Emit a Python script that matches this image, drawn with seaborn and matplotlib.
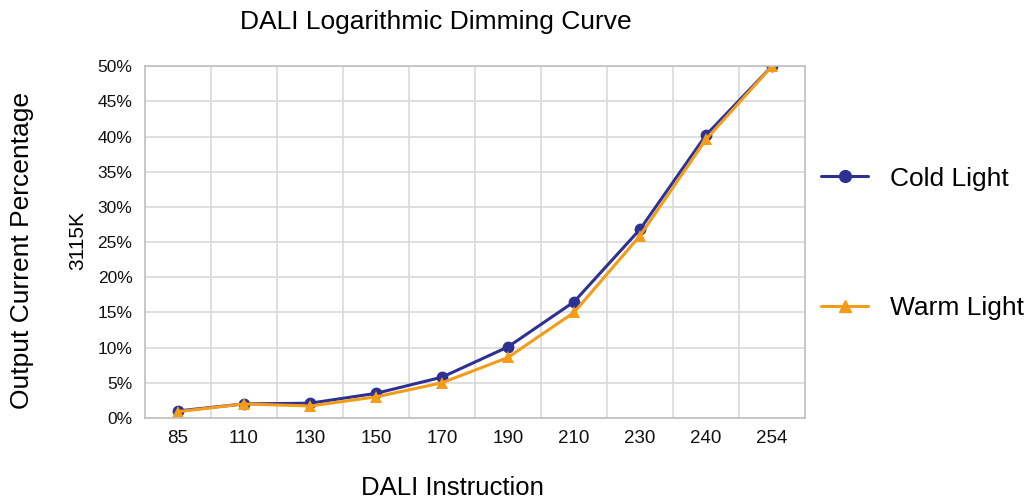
import pandas as pd
import matplotlib
matplotlib.use("Agg")
import matplotlib.pyplot as plt
import seaborn as sns
from matplotlib.ticker import FuncFormatter

dali = ['85', '110', '130', '150', '170', '190', '210', '230', '240', '254']
cold = [1.0, 2.0, 2.1, 3.5, 5.8, 10.1, 16.5, 26.8, 40.2, 50.0]
warm = [0.9, 2.0, 1.7, 3.0, 5.0, 8.6, 15.0, 25.9, 39.6, 50.0]

df = pd.DataFrame({
    'DALI': dali * 2,
    'Pct': cold + warm,
    'Series': ['Cold Light'] * len(dali) + ['Warm Light'] * len(dali),
})

sns.set_style("whitegrid")
plt.rcParams['font.family'] = ['Liberation Sans', 'DejaVu Sans']
plt.rcParams['text.color'] = 'black'

fig = plt.figure(figsize=(10.32, 5.01), dpi=100)
ax = fig.add_axes([0.1405, 0.1657, 0.6395, 0.7023])

sns.lineplot(data=df, x='DALI', y='Pct', hue='Series', style='Series',
             markers={'Cold Light': 'o', 'Warm Light': '^'}, dashes=False,
             palette={'Cold Light': '#2e3192', 'Warm Light': '#f39c1a'},
             linewidth=2.2, markersize=8.5, markeredgewidth=0, ax=ax, legend=False)

ax.set_xlim(-0.5, 9.5)
ax.set_ylim(0, 50)
ax.set_yticks(range(0, 51, 5))
ax.yaxis.set_major_formatter(FuncFormatter(lambda v, p: f"{int(v)}%"))
ax.set_xticks(range(len(dali)))
ax.set_xticklabels(dali)
ax.set_xticks([i + 0.5 for i in range(len(dali) - 1)], minor=True)
ax.grid(False, which='major', axis='x')
ax.grid(True, which='minor', axis='x', color='#d9d9d9', linewidth=1.2)
ax.grid(True, which='major', axis='y', color='#d9d9d9', linewidth=1.2)
ax.tick_params(axis='both', which='both', length=0, colors='#111111')
ax.tick_params(axis='x', labelsize=13.5, pad=9)
ax.tick_params(axis='y', labelsize=12.5, pad=9)
for s in ax.spines.values():
    s.set_color('#bfbfbf')
    s.set_linewidth(1.2)

ax.set_xlabel('')
ax.set_ylabel('')
fig.text(0.422, 0.956, 'DALI Logarithmic Dimming Curve', fontsize=19,
         ha='center', va='center')
fig.text(0.438, 0.026, 'DALI Instruction', fontsize=18.5, ha='center', va='center')
fig.text(0.021, 0.5, 'Output Current Percentage', rotation=90, fontsize=19,
         ha='center', va='center')
fig.text(0.075, 0.519, '3115K', rotation=90, fontsize=15, ha='center', va='center')

h1, = ax.plot([], [], color='#2e3192', marker='o', linewidth=2.2, markersize=8.5)
h2, = ax.plot([], [], color='#f39c1a', marker='^', linewidth=2.2, markersize=8.5)
fig.legend([h1, h2], ['Cold Light', 'Warm Light'], loc='center left',
           bbox_to_anchor=(0.773, 0.514), frameon=False, fontsize=19,
           labelspacing=4.0, handlelength=1.75, handletextpad=0.83)

fig.savefig('out.png', dpi=100)
